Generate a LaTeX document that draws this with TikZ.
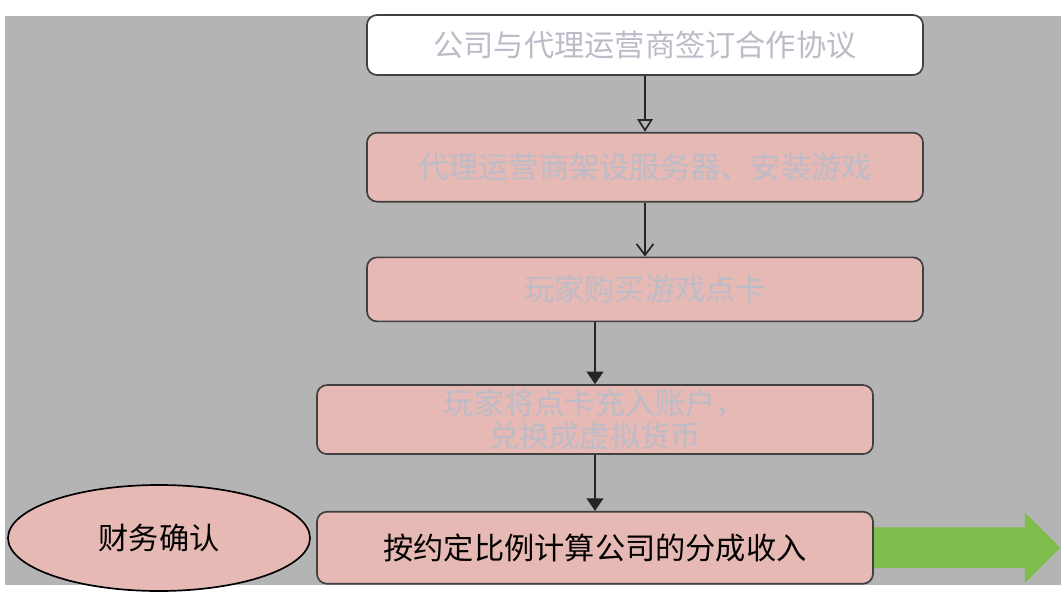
\documentclass[tikz,border=0pt]{standalone}
\usepackage{fontspec}
\setmainfont{Noto Sans CJK SC}
\usetikzlibrary{shapes.geometric,shapes.arrows,arrows.meta,positioning}
\definecolor{bggray}{HTML}{B4B4B4}
\definecolor{boxpink}{HTML}{E6B9B4}
\definecolor{softtext}{HTML}{BCBCC8}
\definecolor{arrowgreen}{HTML}{7DBD4C}

\begin{document}
\begin{tikzpicture}[
    %---- global look ----
    font=\fontsize{21.5}{24}\selectfont,
    node distance = 1.4cm and 1.6cm,                 % vertical gap between steps
    stepbox/.style = {rectangle, draw=black!75, line width=1.2pt,
                      rounded corners=0.25cm, align=center,
                      minimum width=13.9cm, minimum height=1.7cm,
                      inner sep=2pt, fill=boxpink, text=softtext},
    flow/.style = {line width=1.2pt, draw=black!85},
]
\useasboundingbox (0,0) rectangle (26.525,-14.775);
\fill[bggray] (0.125,-0.4) rectangle (26.525,-14.625);

%---- main flow ----
\node (sign)     [stepbox, fill=white, minimum height=1.5cm] at (16.125,-1.125) {公司与代理运营商签订合作协议};

\node (server)   [stepbox, minimum height=1.725cm, below=1.4cm of sign]   {代理运营商架设服务器、安装游戏};

\node (buy)      [stepbox, minimum height=1.6cm, below=1.35cm of server]  {玩家购买游戏点卡};

\node (recharge) [stepbox, minimum height=1.725cm, below=1.55cm of buy, xshift=-1.25cm]
                 {玩家将点卡充入账户，\\兑换成虚拟货币};

\node (share)    [stepbox, minimum height=1.8cm, text=black, below=1.4cm of recharge]
                 {按约定比例计算公司的分成收入};

%---- side nodes ----
\node (confirm)  [ellipse, draw=black, line width=1.2pt, fill=boxpink,
                  minimum width=7.55cm, minimum height=2.65cm] at (3.975,-13.45) {财务确认};

\node (income)   [single arrow, fill=arrowgreen, draw=none,
                  minimum width=1.75cm, minimum height=4.65cm,
                  inner xsep=0pt, inner ysep=0.5cm,
                  single arrow head extend=0.375cm,
                  right=0pt of share] {};

%---- arrows ----
\draw[flow, -{Triangle[open, length=9pt, width=11pt]}] (sign) -- (server);
\draw[flow, -{Straight Barb[length=8pt, width=12pt]}] (server) -- (buy);
\draw[flow, -{Triangle[length=9pt, width=12pt]}] (buy.south -| recharge) -- (recharge);
\draw[flow, -{Triangle[length=9pt, width=12pt]}] (recharge) -- (share);
\end{tikzpicture}
\end{document}
